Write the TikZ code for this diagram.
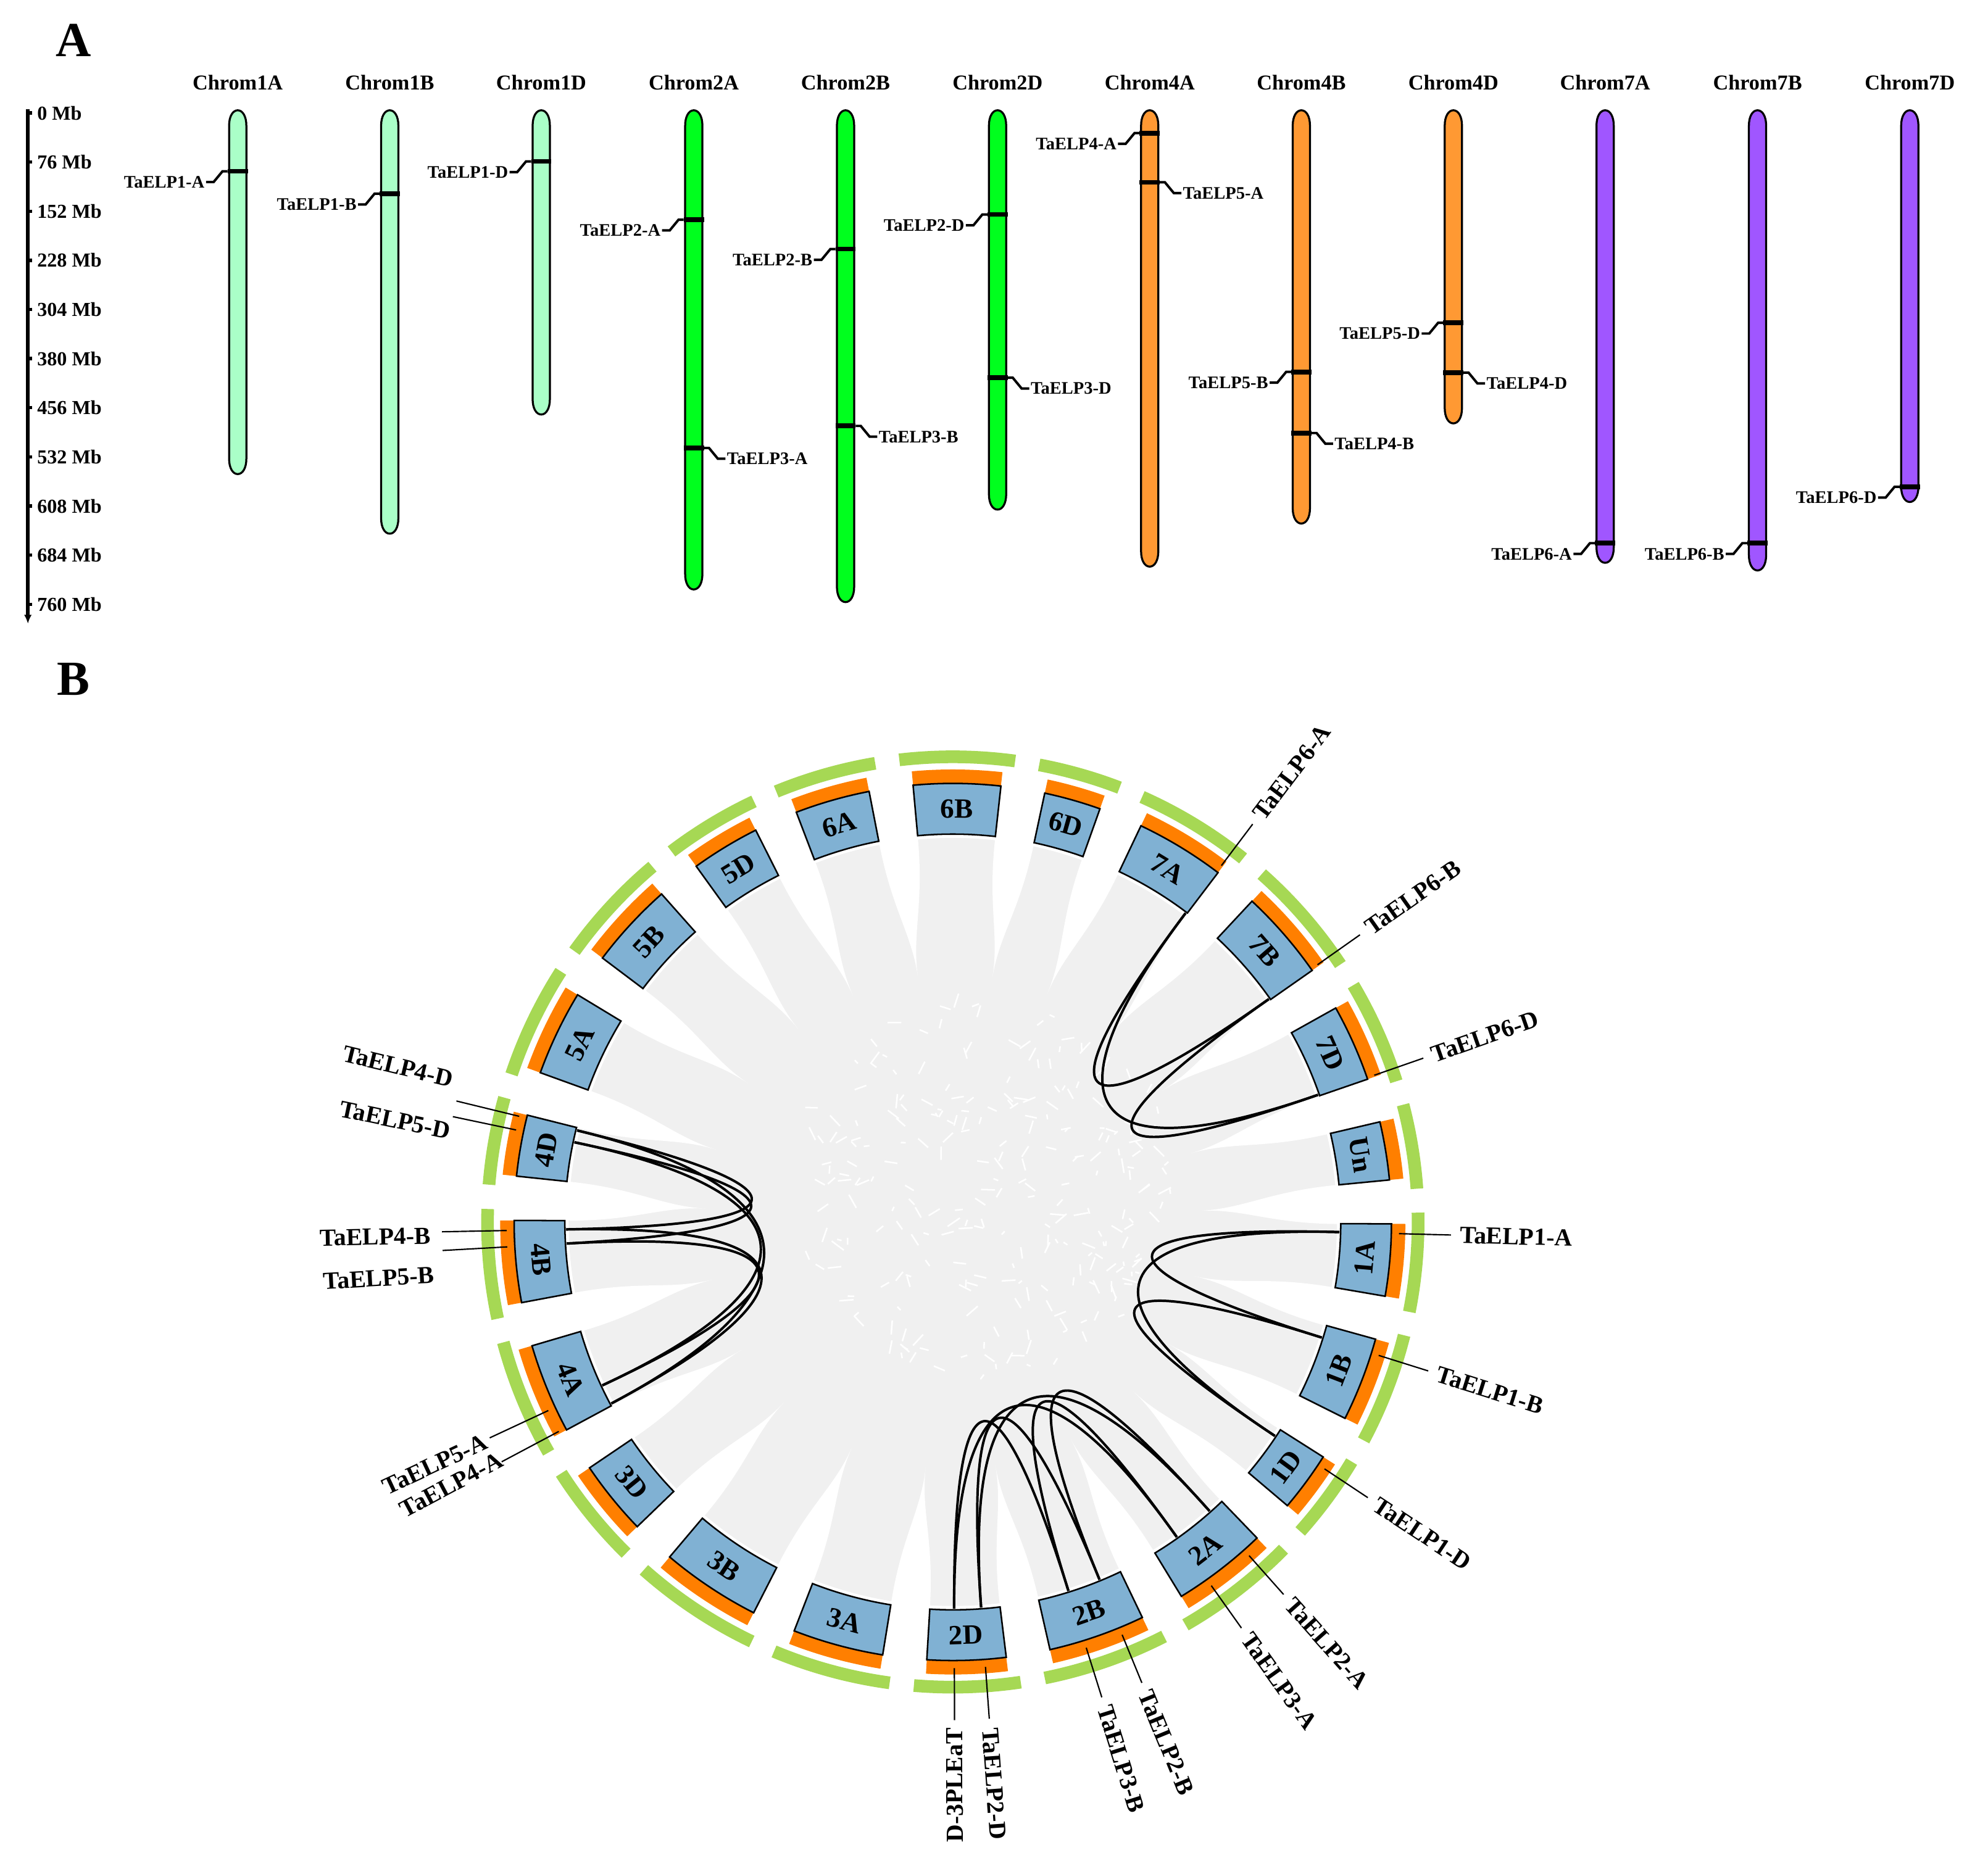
\documentclass[tikz,border=0pt]{standalone}
\usepackage{fontspec}
\setmainfont{Liberation Serif}
\usetikzlibrary{arrows.meta,calc,positioning}

\definecolor{chromI}{HTML}{AAFFC8}
\definecolor{chromII}{HTML}{00FF1E}
\definecolor{chromIV}{HTML}{FF9933}
\definecolor{chromVII}{HTML}{A056FF}
\definecolor{blockblue}{HTML}{80B1D3}
\definecolor{ringorange}{HTML}{FF7F00}
\definecolor{ringgreen}{HTML}{A6D854}
\definecolor{ribbon}{HTML}{F0F0F0}

\begin{document}
\begin{tikzpicture}[
  x=0.02cm, y=0.02cm,
  panel/.style={font=\fontsize{22}{22}\selectfont\bfseries},
  chromlab/.style={font=\fontsize{9.5}{10}\selectfont\bfseries},
  axislab/.style={font=\fontsize{8.9}{9}\selectfont\bfseries, anchor=west, inner sep=0pt},
  axis/.style={line width=1.5pt},
  chrom/.style={draw=black, line width=0.9pt},
  genebar/.style={line width=2.1pt},
  genelink/.style={line width=1.1pt},
  glabA/.style={font=\fontsize{7.9}{8}\selectfont\bfseries, inner sep=0.5pt},
  block/.style={fill=blockblue, draw=black, line width=0.7pt},
  blocklab/.style={font=\fontsize{12.5}{12.5}\selectfont\bfseries},
  glabB/.style={font=\fontsize{11}{11}\selectfont\bfseries, inner sep=0.5pt},
  lead/.style={line width=0.6pt},
  link/.style={line width=1.1pt},
  mesh/.style={white, line width=0.7pt}
]
\useasboundingbox (0,0) rectangle (1568,-1472);

%% ---------- A: chromosome map ----------
\begin{scope}[yscale=-1]
  \node[panel] (pA) at (58,32) {A};

  % scale bar
  \draw[axis, -{Latex[length=4pt,width=3.5pt]}] (22,86) -- (22,492);
  \foreach \v [count=\k from 0] in {0,76,...,760}{
    \draw[axis] (22,89.1+38.76*\k) -- ++(3.5,0);
    \node[axislab] (mb\k) at (29,89.1+38.76*\k) {\v\ Mb};
  }

  % chromosomes
  \foreach \cn/\x/\yb/\col in {1A/187.5/374/chromI, 1B/307.4/421/chromI, 1D/426.9/327/chromI,
      2A/547.2/465/chromII, 2B/666.9/475/chromII, 2D/786.8/402/chromII,
      4A/906.8/447/chromIV, 4B/1026.4/413/chromIV, 4D/1146.3/334/chromIV,
      7A/1266/444/chromVII, 7B/1386.2/450/chromVII, 7D/1506.3/396/chromVII}{
    \node[chromlab] (c\cn) at (\x,65) {Chrom\cn};
    \filldraw[chrom, fill=\col] (\x-6.8,99) .. controls (\x-6.8,92) and (\x-4,87) .. (\x,87)
      .. controls (\x+4,87) and (\x+6.8,92) .. (\x+6.8,99) -- (\x+6.8,\yb-12)
      .. controls (\x+6.8,\yb-5) and (\x+4,\yb) .. (\x,\yb)
      .. controls (\x-4,\yb) and (\x-6.8,\yb-5) .. (\x-6.8,\yb-12) -- cycle;
  }

  % genes labelled on the left
  \foreach \p/\cc/\x/\y in {1/A/187.5/135.1, 1/B/307.4/152.8, 1/D/426.9/127.3,
      2/A/547.2/173.3, 2/B/666.9/196.5, 2/D/786.8/169.2, 4/A/906.8/105,
      5/B/1026.4/293.4, 5/D/1146.3/254.6, 6/A/1266/428.5, 6/B/1386.2/428.5, 6/D/1506.3/384}{
    \draw[genebar] (\x-8,\y) -- (\x+8,\y);
    \coordinate (ma\p\cc) at (\x-8,\y);
    \node[glabA, anchor=east] (a\p\cc) at (\x-25,\y+8.5) {TaELP\p-\cc};
    \draw[genelink] (ma\p\cc) -- ++(-4,0) -- ++(-7,8.5) -- (a\p\cc.east);
  }
  % genes labelled on the right
  \foreach \p/\cc/\x/\y in {3/A/547.2/353.4, 3/B/666.9/336, 3/D/786.8/298,
      5/A/906.8/143.8, 4/B/1026.4/341.6, 4/D/1146.3/294}{
    \draw[genebar] (\x-8,\y) -- (\x+8,\y);
    \coordinate (ma\p\cc) at (\x+8,\y);
    \node[glabA, anchor=west] (a\p\cc) at (\x+25,\y+8.5) {TaELP\p-\cc};
    \draw[genelink] (ma\p\cc) -- ++(4,0) -- ++(7,8.5) -- (a\p\cc.west);
  }

  \node[panel] (pB) at (58,536) {B};
\end{scope}

%% ---------- B: circos plot ----------
\begin{scope}[shift={(751.5,-964)}]
  \fill[ribbon] (0,0) circle[radius=303];

  \foreach \cn/\ts/\te in {1A/-0.25/-9.75, 1B/-15.5/-26.6, 1D/-32.4/-40.3, 2A/-46.1/-58.6,
      2B/-64.4/-77.2, 2D/-83/-93.4, 3A/-99.2/-111.2, 3B/-117/-130.2, 3D/-136/-145.9,
      4A/-151.7/-163.6, 4B/-169.4/-180.2, 4D/-186/-194.1, 5A/-199.9/-211.2,
      5B/-217/-228.4, 5D/-234.2/-243.3, 6A/-249.1/-259, 6B/-264.8/-276.3,
      6D/-282.1/-289.6, 7A/-295.4/-307.2, 7B/-313/-325, 7D/-330.8/-341, Un/-346.8/-354.5}{
    \pgfmathsetmacro\tc{(\ts+\te)/2}
    \pgfmathsetmacro\tr{sin(\tc)>0 ? \tc-90 : \tc+90}
    \pgfmathsetmacro\tn{\te-5.8}
    \pgfmathsetmacro\tm{\te-2.9}
    \pgfmathsetmacro\ga{\ts+1.4}
    \pgfmathsetmacro\gb{\te-1.4}
    % white gap between ribbons
    \fill[white] (\te:304) .. controls (\te:250) and (\tm:230) .. (\tm:195)
      .. controls (\tm:230) and (\tn:250) .. (\tn:304) -- cycle;
    % tracks
    \fill[ringgreen] (\ga:362) arc[start angle=\ga, end angle=\gb, radius=362]
      -- (\gb:372) arc[start angle=\gb, end angle=\ga, radius=372] -- cycle;
    \fill[ringorange] (\ts:346) arc[start angle=\ts, end angle=\te, radius=346]
      -- (\te:357) arc[start angle=\te, end angle=\ts, radius=357] -- cycle;
    \filldraw[block] (\ts:306) arc[start angle=\ts, end angle=\te, radius=306]
      -- (\te:346) arc[start angle=\te, end angle=\ts, radius=346] -- cycle;
    \node[blocklab, rotate=\tr] (blk\cn) at (\tc:326) {\cn};
  }

  % crossing ribbon edges in the middle
  \pgfmathsetseed{17}
  \foreach \i in {1,...,260}{
    \pgfmathsetmacro\mr{150*sqrt(rnd)}
    \pgfmathsetmacro\ma{360*rnd}
    \pgfmathsetmacro\md{360*rnd}
    \pgfmathsetmacro\ml{3+9*rnd}
    \draw[mesh] ($(25,25)+(\ma:\mr)$) -- ++(\md:\ml);
  }

  % gene names, right half
  \foreach \p/\cc/\a in {6/A/53, 6/B/35.2, 6/D/19.2, 1/A/-1.5, 1/B/-17.4, 1/D/-33.6,
      2/A/-48.4, 3/A/-54.6, 2/B/-67.7, 3/B/-72.6, 2/D/-85.8}{
    \coordinate (g\p\cc) at (\a:305);
    \coordinate (r\p\cc) at (\a:352);
    \coordinate (o\p\cc) at (\a:393);
    \draw[lead] (r\p\cc) -- (o\p\cc);
    \node[glabB, anchor=west, rotate=\a] (b\p\cc) at (\a:399) {TaELP\p-\cc};
  }
  \coordinate (g3D) at (-89.8:305);
  \coordinate (r3D) at (-89.8:352);
  \coordinate (o3D) at (-89.8:393);
  \draw[lead] (r3D) -- (o3D);
  \node[glabB, anchor=east, rotate=90.2] (b3D) at (-89.8:398) {D-3PLEaT};

  % gene names, left half
  \foreach \p/\cc/\a/\lx/\ly/\lr in {4/D/166.3/-393.5/112/-13.7, 5/D/168.1/-395.5/71/-11.9,
      4/B/181.1/-410.5/-11/1.1, 5/B/183.2/-408/-42/3.2,
      5/A/205/-367.5/-172/25, 4/A/208/-355.5/-186/28}{
    \coordinate (g\p\cc) at (\a:305);
    \coordinate (r\p\cc) at (\a:352);
    \coordinate (o\p\cc) at (\a:403);
    \draw[lead] (r\p\cc) -- (o\p\cc);
    \node[glabB, anchor=east, rotate=\lr] (b\p\cc) at (\lx,\ly) {TaELP\p-\cc};
  }

  % duplicated gene pairs
  \foreach \u/\v in {6A/6B, 6A/6D, 6B/6D, 1A/1B, 1A/1D, 1B/1D, 2A/2B, 2A/2D, 2B/2D,
      3A/3B, 3A/3D, 3B/3D, 4A/4B, 4A/4D, 4B/4D, 5A/5B, 5A/5D, 5B/5D}
    \draw[link] (g\u) .. controls ($(0,0)!0.37!(g\u)$) and ($(0,0)!0.37!(g\v)$) .. (g\v);
\end{scope}
\end{tikzpicture}
\end{document}
